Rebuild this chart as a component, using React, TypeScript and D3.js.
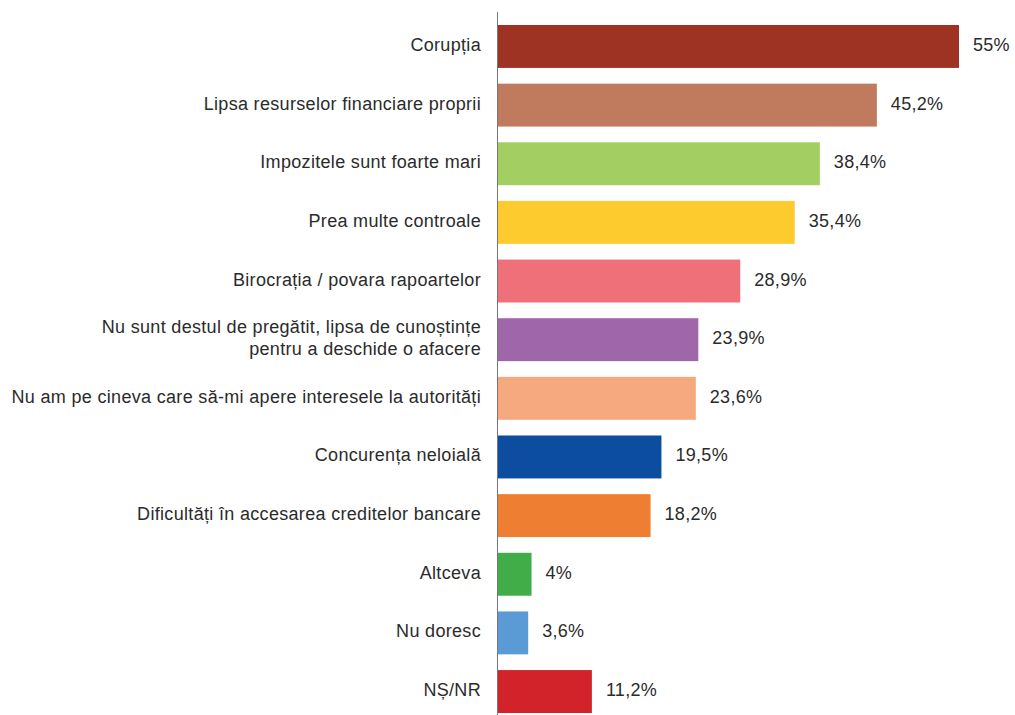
import React from "react";
import * as d3 from "d3";

const categories: string[][] = [
  ["Corupția"],
  ["Lipsa resurselor financiare proprii"],
  ["Impozitele sunt foarte mari"],
  ["Prea multe controale"],
  ["Birocrația / povara rapoartelor"],
  ["Nu sunt destul de pregătit, lipsa de cunoștințe", "pentru a deschide o afacere"],
  ["Nu am pe cineva care să-mi apere interesele la autorități"],
  ["Concurența neloială"],
  ["Dificultăți în accesarea creditelor bancare"],
  ["Altceva"],
  ["Nu doresc"],
  ["NȘ/NR"],
];
const values: number[] = [55, 45.2, 38.4, 35.4, 28.9, 23.9, 23.6, 19.5, 18.2, 4, 3.6, 11.2];
const valueLabels: string[] = ["55%", "45,2%", "38,4%", "35,4%", "28,9%", "23,9%", "23,6%", "19,5%", "18,2%", "4%", "3,6%", "11,2%"];
const colors: string[] = [
  "#9E3323", "#C07A5E", "#A3CF62", "#FDCB2E", "#F0707A", "#A066AA",
  "#F6A97F", "#0D4D9F", "#EE7E31", "#41AD49", "#5B9BD5", "#D2232A",
];

export default function App() {
  const W = 1015, H = 715;
  const x0 = 498;
  const x = d3.scaleLinear().domain([0, 55]).range([x0, 959]);
  const idx = d3.range(values.length);
  const y = d3.scaleBand<number>().domain(idx).range([25, 713]).paddingInner(0.268).paddingOuter(0);
  const font = "'Liberation Sans', Arial, Helvetica, sans-serif";
  return (
    <svg width={W} height={H} style={{ position: "absolute", left: 0, top: 0, background: "#fff" }} fontFamily={font}>
      {idx.map((i) => {
        const yy = y(i)!;
        const bw = y.bandwidth();
        const cy = yy + bw / 2;
        const lines = categories[i];
        const lh = 22;
        return (
          <g key={i}>
            <rect x={x0} y={yy} width={x(values[i]) - x0} height={bw} fill={colors[i]} />
            {lines.map((l, j) => (
              <text key={j} x={481} y={cy + (j - (lines.length - 1) / 2) * lh} dy="0.25em" textAnchor="end" fontSize={18} letterSpacing={0.32} fill="#2b2b2b">
                {l}
              </text>
            ))}
            <text x={x(values[i]) + 14} y={cy} dy="0.25em" fontSize={18} letterSpacing={0.3} fill="#2b2b2b">
              {valueLabels[i]}
            </text>
          </g>
        );
      })}
      <line x1={497.5} x2={497.5} y1={12} y2={H} stroke="#777" strokeWidth={1} />
    </svg>
  );
}
